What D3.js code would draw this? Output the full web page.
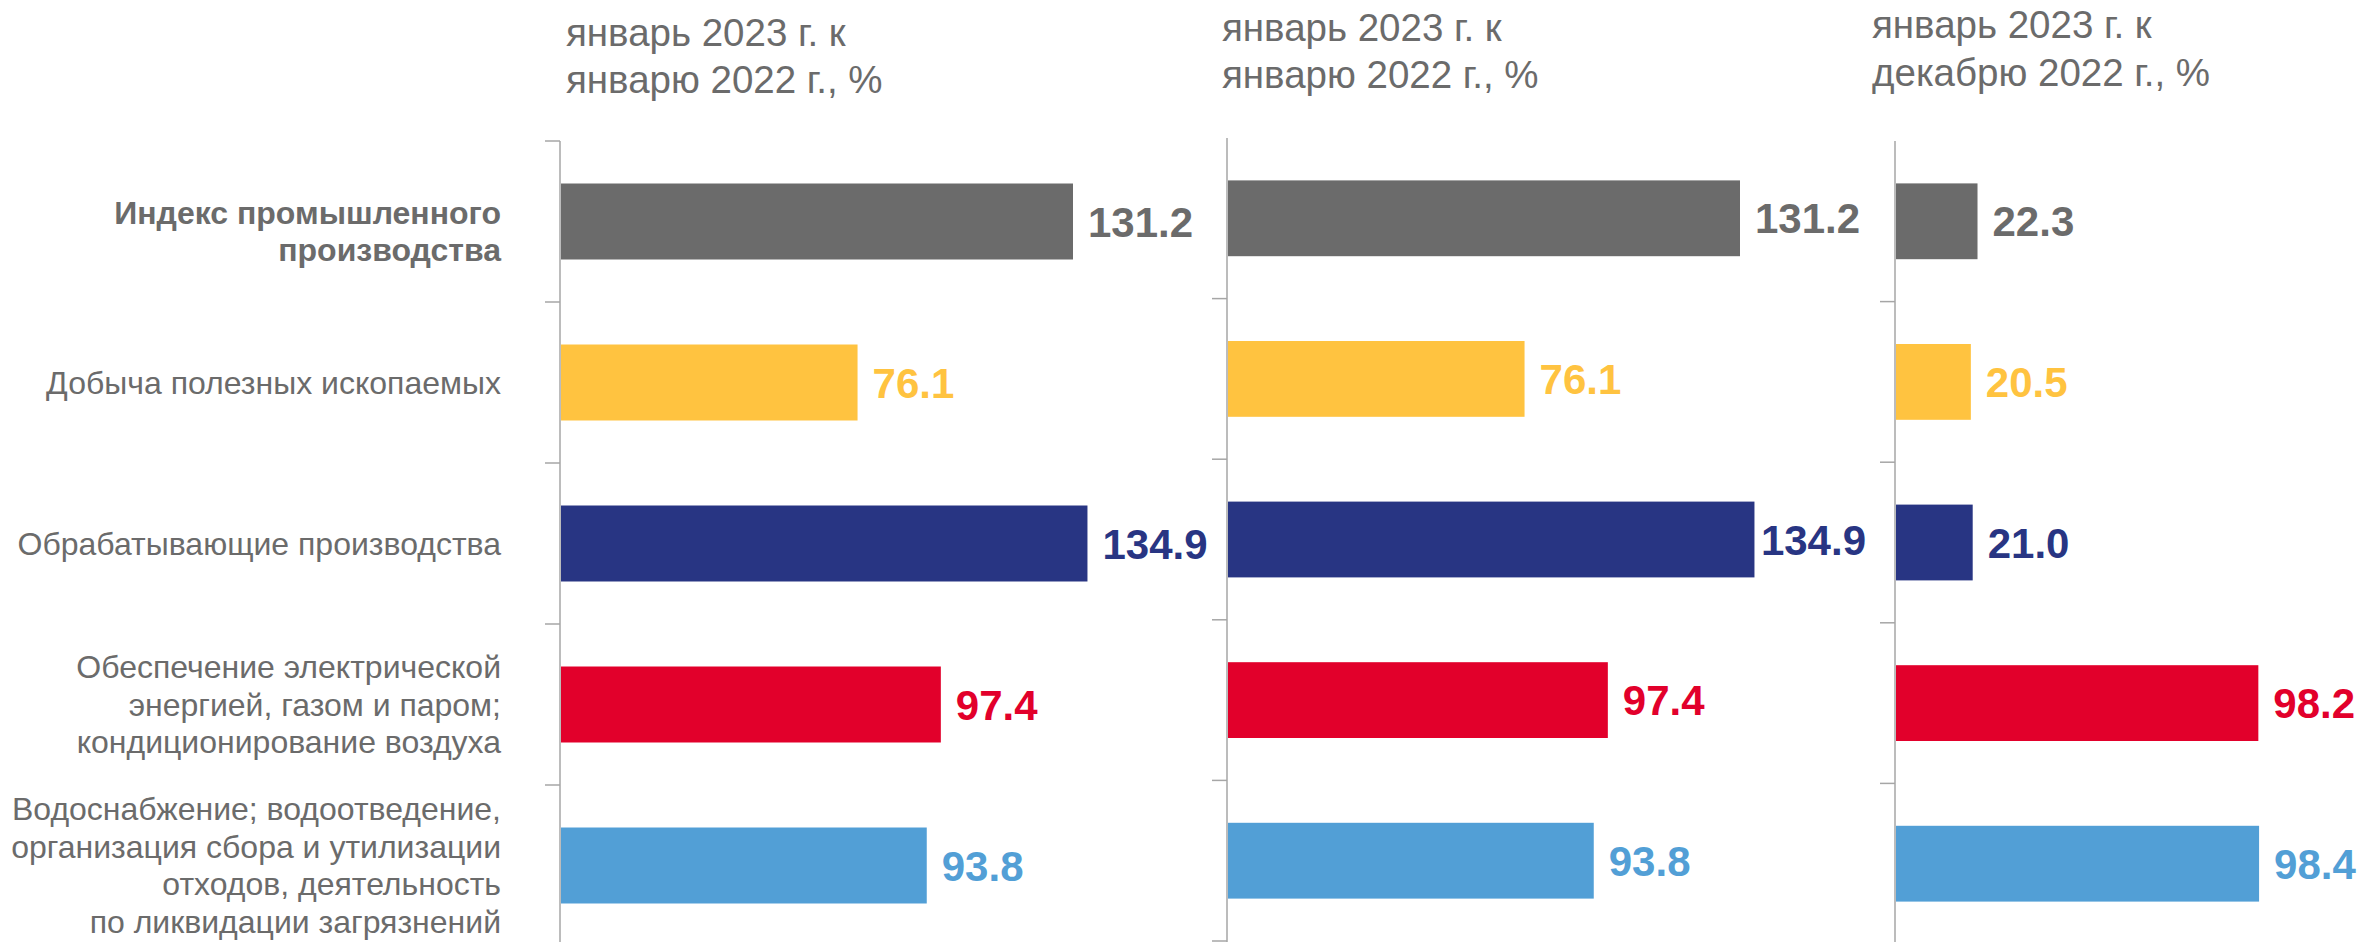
<!DOCTYPE html>
<html>
<head>
<meta charset="utf-8">
<script src="https://cdn.jsdelivr.net/npm/d3@7"></script>
<style>
  html, body { margin: 0; padding: 0; background: #ffffff; }
  svg { display: block; font-family: "Liberation Sans", Arial, sans-serif; }
</style>
</head>
<body>
<svg id="chart" width="2361" height="942"></svg>
<script>
// ---- DATA ----
const categories = [
  "Индекс промышленного производства",
  "Добыча полезных ископаемых",
  "Обрабатывающие производства",
  "Обеспечение электрической энергией, газом и паром; кондиционирование воздуха",
  "Водоснабжение; водоотведение, организация сбора и утилизации отходов, деятельность по ликвидации загрязнений"
];
const categoryLines = [
  ["Индекс промышленного", "производства"],
  ["Добыча полезных ископаемых"],
  ["Обрабатывающие производства"],
  ["Обеспечение электрической", "энергией, газом и паром;", "кондиционирование воздуха"],
  ["Водоснабжение; водоотведение,", "организация сбора и утилизации", "отходов, деятельность", "по ликвидации загрязнений"]
];
const panelTitles = [
  ["январь 2023 г. к", "январю 2022 г., %"],
  ["январь 2023 г. к", "январю 2022 г., %"],
  ["январь 2023 г. к", "декабрю 2022 г., %"]
];
const valuesJan22a = [131.2, 76.1, 134.9, 97.4, 93.8];
const valuesJan22b = [131.2, 76.1, 134.9, 97.4, 93.8];
const valuesDec22  = [22.3, 20.5, 21.0, 98.2, 98.4];
const barColors = ["#6b6b6b", "#ffc340", "#283583", "#e2002b", "#529fd6"];

// ---- LAYOUT ----
const svg = d3.select("#chart");
const textGray = "#6b6b6b";
const axisGray = "#a6a6a6";

const panels = [
  { values: valuesJan22a, title: panelTitles[0], x0: 560,  domainMax: 140, pxPerUnit: 3.91, y0: 141, y1: 946, tx: 566,  tb: [46, 93], topTick: true,  labelLimit: 2361 },
  { values: valuesJan22b, title: panelTitles[1], x0: 1227, domainMax: 140, pxPerUnit: 3.91, y0: 138, y1: 941, tx: 1222, tb: [41, 88], topTick: false, labelLimit: 1866 },
  { values: valuesDec22,  title: panelTitles[2], x0: 1895, domainMax: 100, pxPerUnit: 3.70, y0: 141, y1: 944, tx: 1872, tb: [38, 86], topTick: false, labelLimit: 2361 }
];

panels.forEach((p, pi) => {
  const x = d3.scaleLinear().domain([0, p.domainMax]).range([p.x0, p.x0 + p.domainMax * p.pxPerUnit]);
  const y = d3.scaleBand().domain(categories).range([p.y0, p.y1]).paddingInner(0.528).paddingOuter(0.264);
  const g = svg.append("g");

  // title
  const t = g.append("text").attr("fill", textGray).style("font-size", "38.5px");
  p.title.forEach((line, i) => {
    t.append("tspan").attr("x", p.tx).attr("y", p.tb[i]).text(line);
  });

  // axis line and ticks at band boundaries
  g.append("line")
    .attr("x1", x(0)).attr("x2", x(0))
    .attr("y1", p.y0).attr("y2", 942)
    .attr("stroke", axisGray).attr("stroke-width", 1.5);
  const step = y.step();
  const bounds = d3.range(categories.length + 1).map(i => p.y0 + i * step).filter(v => v < 942);
  g.selectAll("line.tick").data(bounds.filter((b, i) => i > 0 || p.topTick)).join("line")
    .attr("class", "tick")
    .attr("x1", x(0) - 15).attr("x2", x(0))
    .attr("y1", d => d).attr("y2", d => d)
    .attr("stroke", axisGray).attr("stroke-width", 1.5);

  // bars
  g.selectAll("rect.bar").data(p.values).join("rect")
    .attr("class", "bar")
    .attr("x", x(0) + 1)
    .attr("y", (d, i) => y(categories[i]))
    .attr("width", d => Math.min(x(d), x.range()[1]) - x(0) - 1)
    .attr("height", y.bandwidth())
    .attr("fill", (d, i) => barColors[i]);

  // value labels
  g.selectAll("text.val").data(p.values).join("text")
    .attr("class", "val")
    .attr("x", d => Math.min(x(d), x.range()[1]) + 15)
    .attr("y", (d, i) => y(categories[i]) + y.bandwidth() / 2)
    .attr("dy", "0.36em")
    .attr("fill", (d, i) => barColors[i])
    .style("font-size", "42px")
    .style("font-weight", "bold")
    .text(d => d.toFixed(1))
    .each(function() {
      const bb = this.getBBox();
      if (bb.x + bb.width > p.labelLimit) {
        d3.select(this).attr("x", +d3.select(this).attr("x") - (bb.x + bb.width - p.labelLimit));
      }
    });

  // category labels (only first panel)
  if (pi === 0) {
    const lh = 37.5;
    categoryLines.forEach((lines, i) => {
      const cy = y(categories[i]) + y.bandwidth() / 2 + (i === 0 ? 10 : 0);
      const first = cy - (lines.length - 1) * lh / 2 + 11;
      const txt = g.append("text")
        .attr("text-anchor", "end")
        .attr("fill", textGray)
        .style("font-size", "32px")
        .style("font-weight", i === 0 ? "bold" : "normal");
      lines.forEach((line, j) => {
        txt.append("tspan").attr("x", 501).attr("y", first + j * lh).text(line);
      });
    });
  }
});
</script>
</body>
</html>
